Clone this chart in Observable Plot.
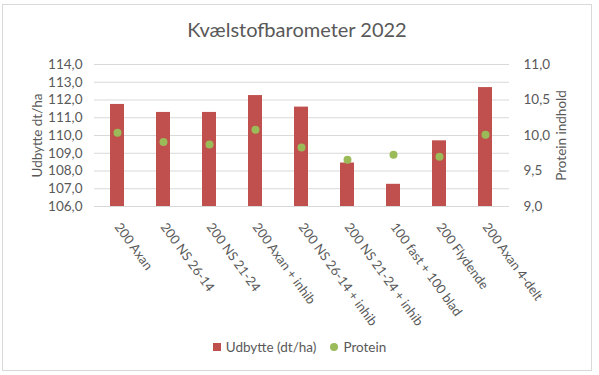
<!DOCTYPE html>
<html>
<head>
<meta charset="utf-8">
<script src="https://cdn.jsdelivr.net/npm/d3@7"></script>
<script src="https://cdn.jsdelivr.net/npm/@observablehq/plot@0.6"></script>
<style>
  html, body { margin: 0; padding: 0; background: #fff; }
  #wrap { position: relative; width: 599px; height: 375px; overflow: hidden; font-family: Lato, "Open Sans", sans-serif; color: #595959; }
  #border { position: absolute; left: 2px; top: 4px; width: 588px; height: 365px; border: 1px solid #d9d9d9; }
  #title { position: absolute; left: 0; width: 594px; top: 17px; text-align: center; font-size: 20px; color: #595959; }
  #chart { position: absolute; left: 0; top: 0; }
  #legend { position: absolute; left: 0; width: 599px; top: 338px; text-align: center; font-size: 13.5px; color: #595959; }
  .li { display: inline-flex; align-items: center; margin: 0 7px; }
  .sw { display: inline-block; width: 8px; height: 8px; margin-right: 5px; }
</style>
</head>
<body>
<div id="wrap">
  <div id="border"></div>
  <div id="chart"></div>
  <div id="title">Kvælstofbarometer 2022</div>
  <div id="legend"></div>
</div>
<script>
const categories = ["200 Axan", "200 NS 26-14", "200 NS 21-24", "200 Axan + inhib", "200 NS 26-14 + inhib", "200 NS 21-24 + inhib", "100 fast + 100 blad", "200 Flydende", "200 Axan 4-delt"];
const yieldValues = [111.75, 111.3, 111.3, 112.25, 111.6, 108.45, 107.25, 109.7, 112.7];
const proteinValues = [10.04, 9.91, 9.875, 10.08, 9.83, 9.66, 9.73, 9.70, 10.01];
const leftTicks = [106, 107, 108, 109, 110, 111, 112, 113, 114];
const rightTickValues = [9.0, 9.5, 10.0, 10.5, 11.0];
const seriesNames = ["Udbytte (dt/ha)", "Protein"];
const colors = ["#C0504D", "#9BBB59"];

const yMin = 106, yMax = 114, pMin = 9, pMax = 11;
const pToY = p => yMin + (p - pMin) * (yMax - yMin) / (pMax - pMin);
const yToP = y => pMin + (y - yMin) * (pMax - pMin) / (yMax - yMin);
const fmt = v => v.toFixed(1).replace(".", ",");

const data = categories.map((c, i) => ({cat: c, yield: yieldValues[i], protein: proteinValues[i]}));

const chart = Plot.plot({
  width: 599,
  height: 330,
  marginLeft: 94,
  marginRight: 90,
  marginTop: 64,
  marginBottom: 124,
  style: {fontFamily: "Lato, 'Open Sans', sans-serif", fontSize: "13.5px", color: "#595959", background: "transparent"},
  x: {domain: categories, paddingInner: 0.69, paddingOuter: 0.345},
  y: {domain: [yMin, yMax]},
  marks: [
    Plot.gridY({ticks: leftTicks, stroke: "#d9d9d9", strokeOpacity: 1, strokeWidth: 1}),
    Plot.barY(data, {x: "cat", y1: yMin, y2: "yield", fill: colors[0]}),
    Plot.dot(data, {x: "cat", y: d => pToY(d.protein), r: 4, fill: colors[1], stroke: null}),
    Plot.axisY({ticks: leftTicks, tickSize: 0, tickPadding: 12, tickFormat: fmt, label: "Udbytte dt/ha", labelAnchor: "center", labelArrow: "none", labelOffset: 62, fill: "#595959"}),
    Plot.axisY({anchor: "right", ticks: rightTickValues.map(pToY), tickSize: 0, tickPadding: 14, tickFormat: d => fmt(yToP(d)), label: "Protein indhold", labelAnchor: "center", labelArrow: "none", labelOffset: 56, fill: "#595959"}),
    Plot.axisX({tickRotate: 54, tickSize: 0, tickPadding: 18, fontSize: 13, label: null, fill: "#595959"})
  ]
});
document.getElementById("chart").appendChild(chart);

const legend = document.getElementById("legend");
seriesNames.forEach((name, i) => {
  const item = document.createElement("span");
  item.className = "li";
  const sw = document.createElement("span");
  sw.className = "sw";
  sw.style.background = colors[i];
  if (i === 1) sw.style.borderRadius = "50%";
  item.appendChild(sw);
  item.appendChild(document.createTextNode(name));
  legend.appendChild(item);
});
</script>
</body>
</html>
